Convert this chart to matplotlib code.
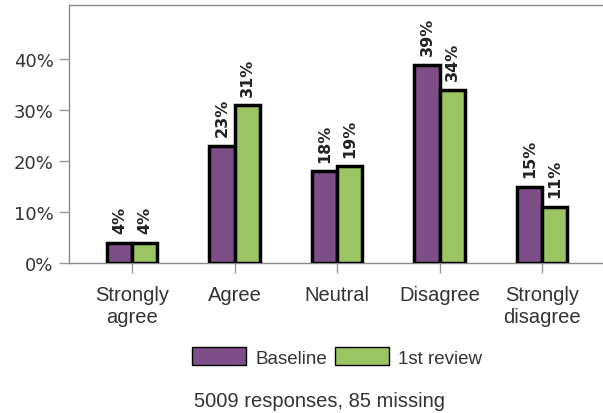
import matplotlib
matplotlib.use('Agg')
import matplotlib.pyplot as plt
import numpy as np

categories = ['Strongly\nagree', 'Agree', 'Neutral', 'Disagree', 'Strongly\ndisagree']
series_names = ['Baseline', '1st review']
baseline = [4, 23, 18, 39, 15]
review = [4, 31, 19, 34, 11]
yticks = [0, 10, 20, 30, 40]
caption = '5009 responses, 85 missing'

colors = ['#7e4e89', '#9bc462']

plt.rcParams['font.family'] = ['Liberation Sans', 'DejaVu Sans']

fig = plt.figure(figsize=(6.03, 4.14), dpi=100)
# axes box: left spine at x=69, bottom at y=264, top at y=6 (pixels)
ax = fig.add_axes([69 / 603, 150 / 414, 1 - 69 / 603, 258 / 414])

x = np.arange(len(categories))
w = 0.245
for i, (vals, name) in enumerate(zip([baseline, review], series_names)):
    pos = x + (i - 0.5) * w
    ax.bar(pos, vals, width=w, color=colors[i], edgecolor='black',
           linewidth=2.5, label=name, zorder=3)
    for p, v in zip(pos, vals):
        ax.annotate(f'{v}%', (p, v), xytext=(0, 7), textcoords='offset points',
                    rotation=90, ha='center', va='bottom', fontsize=11.5,
                    fontweight='bold', color='#222222', family='DejaVu Sans')

ax.set_xlim(-0.615, 4.595)
ax.set_ylim(0, 50.7)
ax.set_xticks(x)
ax.set_xticklabels(categories, fontsize=14.5, color='#333333', linespacing=1.2)
ax.set_yticks(yticks)
ax.set_yticklabels([f'{t}%' for t in yticks], fontsize=13, color='#333333',
                   family='DejaVu Sans')
ax.tick_params(axis='both', color='#999999', length=7, width=1)
ax.tick_params(axis='x', pad=9)
ax.tick_params(axis='y', pad=4)
ax.spines['right'].set_visible(False)
for s in ax.spines.values():
    s.set_color('#888888')
    s.set_linewidth(1)

leg = ax.legend(loc='center', bbox_to_anchor=(337 / 603, 1 - 358 / 414),
                bbox_transform=fig.transFigure, ncol=2, frameon=False,
                fontsize=13.5, handlelength=2.88, handleheight=1.07,
                columnspacing=0.43, handletextpad=0.48, borderpad=0)
for h in leg.legend_handles:
    h.set_linewidth(1)
for t in leg.get_texts():
    t.set_color('#333333')

fig.text(320 / 603, 1 - 407 / 414, caption, ha='center', va='baseline',
         fontsize=14.5, color='#333333')

fig.savefig('out.png', dpi=100)
